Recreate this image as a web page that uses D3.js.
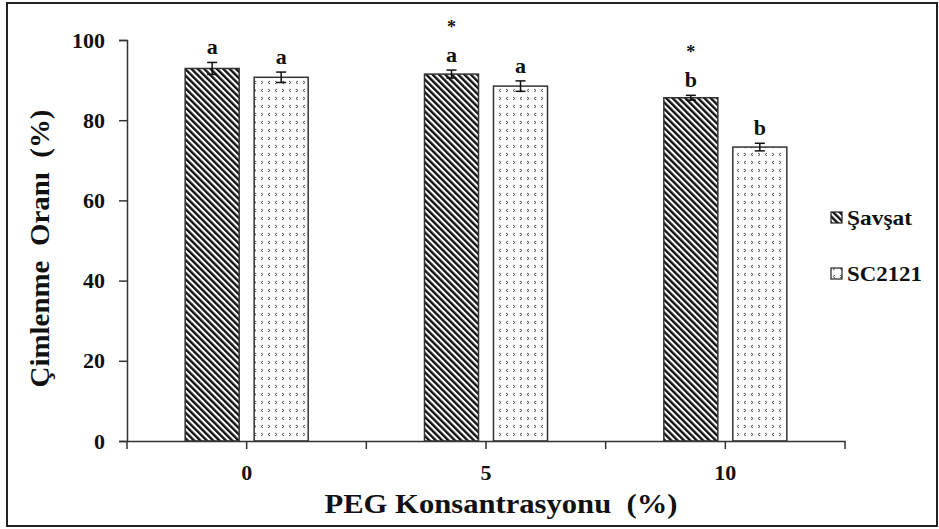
<!DOCTYPE html>
<html>
<head>
<meta charset="utf-8">
<script src="https://cdn.jsdelivr.net/npm/d3@7"></script>
<style>
  body { margin: 0; background: #fff; }
  svg text { font-family: "Liberation Serif", "Times New Roman", serif; font-weight: bold; fill: #111; }
</style>
</head>
<body>
<svg id="chart" width="939" height="529"></svg>
<script>
// data
const categories = ['0', '5', '10']
const seriesNames = ['Şavşat', 'SC2121']
const savsat = [92.9, 91.5, 85.6]
const savsatErr = [1.5, 1.0, 0.6]
const sc2121 = [90.7, 88.5, 73.3]
const sc2121Err = [1.3, 1.3, 0.95]
const savsatLetters = ['a', 'a', 'b']
const sc2121Letters = ['a', 'a', 'b']
const savsatStars = ['', '*', '*']
const yTicks = [0, 20, 40, 60, 80, 100]

const width = 939
const height = 529
const margin = { top: 40, right: 94, bottom: 88, left: 127 }

const svg = d3.select('#chart')

// frame round the whole picture
svg.append('rect')
  .attr('x', 7).attr('y', 3)
  .attr('width', width - 9).attr('height', height - 6)
  .attr('fill', 'none')
  .attr('stroke', '#222')
  .attr('stroke-width', 2)

// fill patterns
const defs = svg.append('defs')
const stripes = defs.append('pattern')
  .attr('id', 'stripes')
  .attr('patternUnits', 'userSpaceOnUse')
  .attr('width', 4.5).attr('height', 4.5)
  .attr('patternTransform', 'rotate(-45)')
stripes.append('rect').attr('width', 4.5).attr('height', 4.5).attr('fill', '#fff')
stripes.append('rect').attr('width', 2.4).attr('height', 4.5).attr('fill', '#111')

const dots = defs.append('pattern')
  .attr('id', 'chevrons')
  .attr('patternUnits', 'userSpaceOnUse')
  .attr('width', 14).attr('height', 16)
dots.append('rect').attr('width', 14).attr('height', 16).attr('fill', '#fff')
dots.append('path')
  .attr('d', 'M4,1 L2,2.5 L4,4 M9,1 L11,2.5 L9,4 M11,9 L9,10.5 L11,12 M2,9 L4,10.5 L2,12')
  .attr('fill', 'none')
  .attr('stroke', '#555')
  .attr('stroke-width', 1)

const fills = ['url(#stripes)', 'url(#chevrons)']

const x = d3.scaleBand()
  .domain(categories)
  .range([margin.left, width - margin.right])
  .padding(0)

const bw = x.bandwidth()
const xInner = d3.scaleBand()
  .domain(seriesNames)
  .range([bw * 0.243, bw * 0.757])
  .paddingInner(0.217)

const y = d3.scaleLinear()
  .domain([0, 100])
  .range([height - margin.bottom, margin.top])

const rows = categories.map((c, i) => [
  { cat: c, name: seriesNames[0], v: savsat[i], e: savsatErr[i], letter: savsatLetters[i], star: savsatStars[i] },
  { cat: c, name: seriesNames[1], v: sc2121[i], e: sc2121Err[i], letter: sc2121Letters[i], star: '' }
]).flat()

const bars = svg.append('g')
bars.selectAll('rect')
  .data(rows)
  .enter().append('rect')
  .attr('x', d => x(d.cat) + xInner(d.name))
  .attr('y', d => y(d.v))
  .attr('width', xInner.bandwidth())
  .attr('height', d => y(0) - y(d.v))
  .attr('fill', (d, i) => fills[i % 2])
  .attr('stroke', '#333')
  .attr('stroke-width', 1.5)

// error bars
const err = svg.append('g').attr('stroke', '#111').attr('stroke-width', 1.5)
rows.forEach(d => {
  const cx = x(d.cat) + xInner(d.name) + xInner.bandwidth() / 2
  err.append('line').attr('x1', cx).attr('x2', cx).attr('y1', y(d.v + d.e)).attr('y2', y(d.v - d.e))
  err.append('line').attr('x1', cx - 5).attr('x2', cx + 5).attr('y1', y(d.v + d.e)).attr('y2', y(d.v + d.e))
  err.append('line').attr('x1', cx - 5).attr('x2', cx + 5).attr('y1', y(d.v - d.e)).attr('y2', y(d.v - d.e))
})

// significance letters and stars
const labels = svg.append('g').attr('text-anchor', 'middle')
rows.forEach(d => {
  const cx = x(d.cat) + xInner(d.name) + xInner.bandwidth() / 2
  const base = y(d.v + d.e) - 8
  labels.append('text').attr('x', cx).attr('y', base).style('font-size', '22px').text(d.letter)
  if (d.star) {
    labels.append('text').attr('x', cx).attr('y', base - 29).style('font-size', '18px').text(d.star)
  }
})

// y axis
const yAxis = svg.append('g')
  .attr('transform', `translate(${margin.left},0)`)
  .call(d3.axisLeft(y).tickValues(yTicks).tickSize(8).tickPadding(14))
yAxis.selectAll('path, line').attr('stroke', '#333').attr('stroke-width', 1.5)
yAxis.selectAll('text').style('font-size', '22px').attr('fill', '#111')

// x axis: labels under the category centres, ticks at centres and boundaries
const xAxis = svg.append('g')
  .attr('transform', `translate(0,${y(0)})`)
  .call(d3.axisBottom(x).tickSize(8).tickSizeOuter(0).tickPadding(15))
xAxis.selectAll('path, line').attr('stroke', '#333').attr('stroke-width', 1.5)
xAxis.selectAll('text').style('font-size', '22px').attr('fill', '#111')
const edges = categories.map(c => x(c)).concat([x(categories[categories.length - 1]) + bw])
xAxis.selectAll('.edge')
  .data(edges)
  .enter().append('line')
  .attr('class', 'edge')
  .attr('x1', d => d).attr('x2', d => d)
  .attr('y1', 0).attr('y2', 8)
  .attr('stroke', '#333').attr('stroke-width', 1.5)

// axis titles
svg.append('text')
  .attr('text-anchor', 'middle')
  .attr('transform', `translate(49,${(margin.top + y(0)) / 2 + 8}) rotate(-90)`)
  .style('font-size', '27px')
  .style('white-space', 'pre')
  .attr('textLength', 278)
  .attr('lengthAdjust', 'spacingAndGlyphs')
  .text('Çimlenme  Oranı  (%)')

svg.append('text')
  .attr('text-anchor', 'middle')
  .attr('x', 501)
  .attr('y', 513)
  .style('font-size', '27px')
  .style('white-space', 'pre')
  .attr('textLength', 353)
  .attr('lengthAdjust', 'spacingAndGlyphs')
  .text('PEG Konsantrasyonu  (%)')

// legend
const legendWidths = [65, 75]
const legend = svg.append('g').attr('transform', 'translate(831,218)')
seriesNames.forEach((n, i) => {
  const g = legend.append('g').attr('transform', `translate(0,${i * 56})`)
  g.append('rect').attr('x', 0).attr('y', -6).attr('width', 11).attr('height', 11)
    .attr('fill', fills[i]).attr('stroke', '#222').attr('stroke-width', 1.2)
  g.append('text').attr('x', 16).attr('y', 7).style('font-size', '21px')
    .attr('textLength', legendWidths[i]).attr('lengthAdjust', 'spacingAndGlyphs')
    .text(n)
})
</script>
</body>
</html>
